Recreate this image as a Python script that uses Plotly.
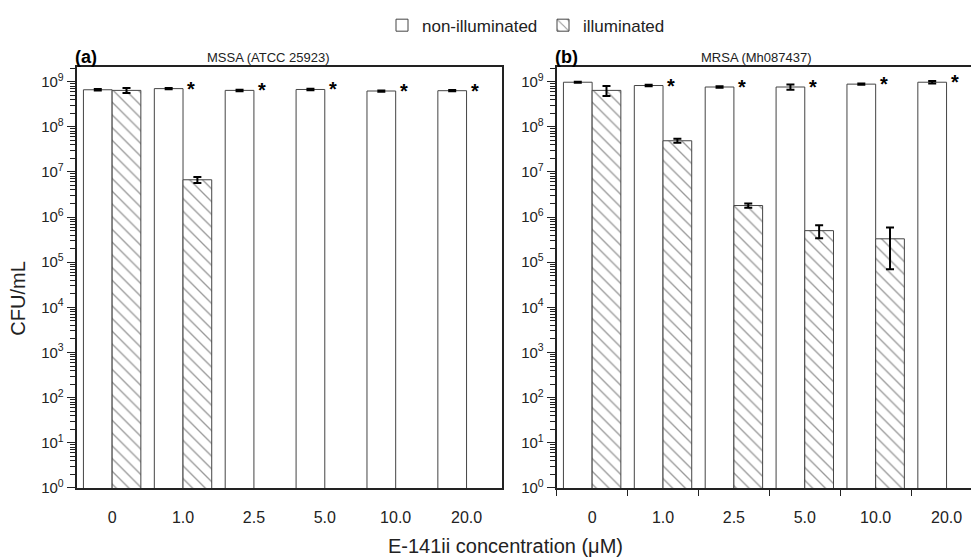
import plotly.graph_objects as go
import math

W, H = 971, 560
FONT = "Liberation Sans, Arial, sans-serif"

categories = ["0", "1.0", "2.5", "5.0", "10.0", "20.0"]

# Panel (a) MSSA (ATCC 25923)
a_dark = [6.6e8, 7.0e8, 6.4e8, 6.7e8, 6.2e8, 6.3e8]
a_dark_err = [2.5e7, 2.5e7, 2.5e7, 2.5e7, 2.0e7, 2.0e7]
a_light = [6.4e8, 6.7e6, None, None, None, None]
a_light_err = [8.0e7, 1.0e6, None, None, None, None]
a_star = [False, True, True, True, True, True]

# Panel (b) MRSA (Mh087437)
b_dark = [9.7e8, 8.2e8, 7.6e8, 7.6e8, 8.8e8, 9.7e8]
b_dark_err = [3.0e7, 3.0e7, 3.0e7, 1.0e8, 3.0e7, 6.0e7]
b_light = [6.4e8, 4.9e7, 1.8e6, 5.0e5, 3.3e5, None]
b_light_err = [1.6e8, 5.0e6, 2.0e5, 1.6e5, 2.6e5, None]
b_star = [False, True, True, True, True, True]

ytick_vals = [10 ** k for k in range(0, 10)]
ytick_text = ["10<sup>%d</sup>" % k for k in range(0, 10)]

def px(x):
    return x / W

def py(y):
    return 1 - y / H

fig = go.Figure()

BAR_LINE = dict(color="#444444", width=1)
ERR = dict(type="data", thickness=2, width=4, color="black")

def add_panel(dark, dark_err, light, light_err, xa, ya, show):
    fig.add_trace(go.Bar(
        x=categories, y=dark, name="non-illuminated", xaxis=xa, yaxis=ya,
        marker=dict(color="white", line=BAR_LINE),
        error_y=dict(array=dark_err, **ERR),
        showlegend=show, legendgroup="dark",
    ))
    fig.add_trace(go.Bar(
        x=categories, y=light, name="illuminated", xaxis=xa, yaxis=ya,
        marker=dict(color="white", line=BAR_LINE,
                    pattern=dict(shape="\\", fgcolor="#333333", bgcolor="white",
                                 size=9, solidity=0.15)),
        error_y=dict(array=light_err, **ERR),
        showlegend=show, legendgroup="light",
    ))

add_panel(a_dark, a_dark_err, a_light, a_light_err, "x", "y", True)
add_panel(b_dark, b_dark_err, b_light, b_light_err, "x2", "y2", False)

annotations = []
for vals, stars, xr, yr in [(a_dark, a_star, "x", "y"), (b_dark, b_star, "x2", "y2")]:
    for i, (v, s) in enumerate(zip(vals, stars)):
        if s:
            annotations.append(dict(
                x=i, y=math.log10(v), xref=xr, yref=yr, text="<b>*</b>",
                showarrow=False, xanchor="center", yanchor="middle",
                xshift=8, yshift=0, font=dict(family=FONT, size=20, color="black")))

ydom = [py(495), py(67.7)]
axis_line = dict(showline=True, linecolor="#222222", linewidth=2)
yaxis_common = dict(
    type="log", range=[0, 9.33], domain=ydom,
    tickvals=ytick_vals, ticktext=ytick_text,
    ticks="outside", ticklen=8, tickwidth=1.2, tickcolor="#222222",
    minor=dict(ticks="outside", ticklen=5, tickwidth=1, tickcolor="#222222", dtick="D1"),
    showgrid=False, zeroline=False,
    tickfont=dict(family=FONT, size=15, color="#222222"),
    **axis_line,
)

fig.update_layout(
    width=W, height=H,
    margin=dict(l=0, r=0, t=0, b=0),
    paper_bgcolor="white", plot_bgcolor="white",
    barmode="group", bargap=0.19, bargroupgap=0,
    font=dict(family=FONT, color="#222222"),
    xaxis=dict(domain=[px(76.7), px(502)], range=[-0.5, 5.5], type="category",
               ticks="", showgrid=False, mirror=True, ticklabelstandoff=14,
               tickfont=dict(family=FONT, size=16, color="#222222"), **axis_line),
    yaxis=dict(anchor="x", mirror=True, **yaxis_common),
    xaxis2=dict(domain=[px(556.7), 1.0], range=[-0.5, 5.345], type="category",
                ticks="outside", tickson="boundaries", ticklen=6, tickwidth=1.2,
                tickcolor="#222222", showgrid=False, mirror=True, anchor="y2",
                ticklabelstandoff=14,
                tickfont=dict(family=FONT, size=16, color="#222222"), **axis_line),
    yaxis2=dict(anchor="x2", mirror=False, **yaxis_common),
    legend=dict(orientation="h", x=px(382), xanchor="left", y=py(26), yanchor="middle",
                entrywidth=116, entrywidthmode="pixels",
                font=dict(family=FONT, size=17, color="#222222"),
                bgcolor="rgba(0,0,0,0)", traceorder="normal"),
    annotations=annotations + [
        dict(x=px(73), y=py(58), xref="paper", yref="paper", text="<b>(a)</b>",
             showarrow=False, xanchor="left", yanchor="middle",
             font=dict(family=FONT, size=18, color="black")),
        dict(x=px(268), y=py(58), xref="paper", yref="paper", text="MSSA (ATCC 25923)",
             showarrow=False, xanchor="center", yanchor="middle",
             font=dict(family=FONT, size=13, color="#222222")),
        dict(x=px(553), y=py(58), xref="paper", yref="paper", text="<b>(b)</b>",
             showarrow=False, xanchor="left", yanchor="middle",
             font=dict(family=FONT, size=18, color="black")),
        dict(x=px(756), y=py(58), xref="paper", yref="paper", text="MRSA (Mh087437)",
             showarrow=False, xanchor="center", yanchor="middle",
             font=dict(family=FONT, size=13, color="#222222")),
        dict(x=px(18.5), y=py(303.5), xref="paper", yref="paper", text="CFU/mL",
             showarrow=False, textangle=-90, xanchor="center", yanchor="middle",
             font=dict(family=FONT, size=20, color="#222222")),
        dict(x=px(505), y=py(554), xref="paper", yref="paper",
             text="E-141ii concentration (μM)",
             showarrow=False, xanchor="center", yanchor="middle",
             font=dict(family=FONT, size=20, color="#222222")),
    ],
)

fig.write_html("out.html")
